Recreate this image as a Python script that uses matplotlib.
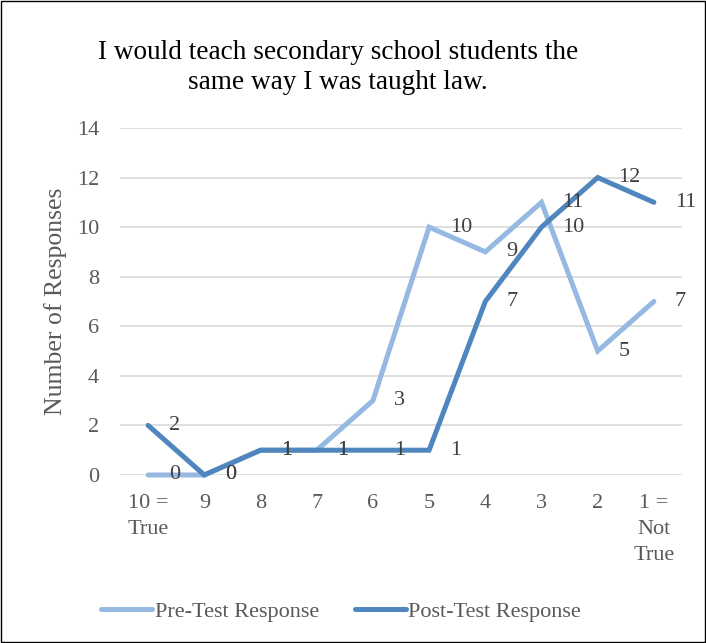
import numpy as np
import matplotlib
matplotlib.use("Agg")
import matplotlib.pyplot as plt
from matplotlib.patches import Rectangle

# data
categories = ["10 =\nTrue", "9", "8", "7", "6", "5", "4", "3", "2", "1 =\nNot\nTrue"]
pre_test = [0, 0, 1, 1, 3, 10, 9, 11, 5, 7]
post_test = [2, 0, 1, 1, 1, 1, 7, 10, 12, 11]

pre_color = "#95B9E0"
post_color = "#4F86BD"
grey_text = "#595959"

plt.rcParams['font.family'] = ['Liberation Serif', 'DejaVu Serif']

fig = plt.figure(figsize=(7.06, 6.43), dpi=100)
ax = fig.add_axes([0.170, 0.2613, 0.796, 0.5397])

x = np.arange(len(categories))
ax.plot(x, pre_test, color=pre_color, lw=3.6, solid_capstyle='round',
        solid_joinstyle='miter', clip_on=False, label="Pre-Test Response", zorder=3)
ax.plot(x, post_test, color=post_color, lw=3.6, solid_capstyle='round',
        solid_joinstyle='miter', clip_on=False, label="Post-Test Response", zorder=4)

# data labels to the right of each point
for series in (pre_test, post_test):
    for xi, v in zip(x, series):
        ax.annotate(str(v), xy=(xi, v), xytext=(15, 0), textcoords='offset points',
                    ha='left', va='center', fontsize=16, color="#404040", zorder=5)

ax.set_xlim(-0.5, len(categories) - 0.5)
ax.set_ylim(0, 14)
ax.set_yticks(range(0, 15, 2))
ax.set_xticks(x)
ax.set_xticklabels(categories, linespacing=1.5, va='top')
ax.tick_params(axis='both', length=0, labelsize=16, labelcolor=grey_text)
ax.tick_params(axis='x', pad=14)
ax.tick_params(axis='y', pad=15)
ax.grid(axis='y', color="#D9D9D9", lw=1.2)
ax.set_axisbelow(True)
for s in ax.spines.values():
    s.set_visible(False)
ax.set_ylabel("Number of Responses", fontsize=18.5, color=grey_text)
ax.yaxis.set_label_coords(-53 / 562, 0.5)

fig.text(0.479, 0.895, "I would teach secondary school students the\nsame way I was taught law.",
         ha='center', va='center', fontsize=19.6, color="black", linespacing=1.3)

fig.legend(loc='center', bbox_to_anchor=(0.483, 0.049), ncol=2, frameon=False,
           fontsize=16, labelcolor=grey_text, handlelength=2.3, handletextpad=0.1,
           columnspacing=1.6)

fig.patches.append(Rectangle((0.001, 0.001), 0.997, 0.997, transform=fig.transFigure,
                             fill=False, edgecolor='black', lw=1.0))

fig.savefig("out.png", dpi=100)
